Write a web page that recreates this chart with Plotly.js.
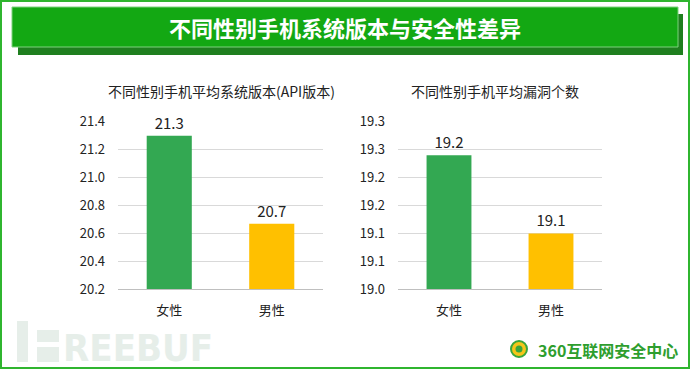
<!DOCTYPE html>
<html>
<head>
<meta charset="utf-8">
<script src="https://cdn.plot.ly/plotly-3.0.1.min.js"></script>
<style>
html,body{margin:0;padding:0;background:#fff;}
#chart{width:690px;height:370px;}
</style>
</head>
<body>
<div id="chart"></div>
<script>
// ---- data ----
const mainTitle = "不同性别手机系统版本与安全性差异";
const categories = ["女性", "男性"];
const apiTitle = "不同性别手机平均系统版本(API版本)";
const apiValues = [21.30, 20.67];
const apiLabels = ["21.3", "20.7"];
const vulnTitle = "不同性别手机平均漏洞个数";
const vulnValues = [19.24, 19.10];
const vulnLabels = ["19.2", "19.1"];
const vulnTickVals = [19.0, 19.05, 19.1, 19.15, 19.2, 19.25, 19.3];
const vulnTickText = ["19.0", "19.1", "19.1", "19.2", "19.2", "19.3", "19.3"];
const barColors = ["#33a852", "#ffc000"];
const watermark = "REEBUF";
const logoText = "360互联网安全中心";

const W = 690, H = 370;
const px = x => x / W;
const py = y => 1 - y / H;
const FONT = "'Microsoft YaHei','Noto Sans CJK SC',sans-serif";

const traces = [
  {type: "bar", x: categories, y: apiValues, text: apiLabels, textposition: "outside",
   texttemplate: "%{text}", cliponaxis: false,
   marker: {color: barColors}, xaxis: "x", yaxis: "y",
   textfont: {size: 15, color: "#222", family: FONT}, hoverinfo: "none"},
  {type: "bar", x: categories, y: vulnValues, text: vulnLabels, textposition: "outside",
   texttemplate: "%{text}", cliponaxis: false,
   marker: {color: barColors}, xaxis: "x2", yaxis: "y2",
   textfont: {size: 15, color: "#222", family: FONT}, hoverinfo: "none"}
];

const axisCommon = {
  showline: true, linecolor: "#bfbfbf", linewidth: 1,
  ticks: "", tickfont: {size: 13, color: "#222", family: FONT},
  ticklabelstandoff: 9, fixedrange: true
};
const yCommon = {
  showgrid: true, gridcolor: "#d9d9d9", gridwidth: 1, zeroline: false,
  showline: false, ticks: "", tickfont: {size: 13, color: "#222", family: FONT},
  ticklabelstandoff: 12, fixedrange: true
};

const layout = {
  width: W, height: H,
  margin: {l: 0, r: 0, t: 0, b: 0},
  paper_bgcolor: "#ffffff", plot_bgcolor: "#ffffff",
  showlegend: false,
  bargap: 0.56,
  font: {family: FONT},
  xaxis: Object.assign({}, axisCommon, {domain: [px(118), px(323)], anchor: "y"}),
  yaxis: Object.assign({}, yCommon, {domain: [py(289.3), py(121.7)], range: [20.2, 21.4],
        dtick: 0.2, tick0: 20.2, tickformat: ".1f", anchor: "x"}),
  xaxis2: Object.assign({}, axisCommon, {domain: [px(398), px(602)], anchor: "y2"}),
  yaxis2: Object.assign({}, yCommon, {domain: [py(289.3), py(121.7)], range: [19.0, 19.3],
        tickmode: "array", tickvals: vulnTickVals, ticktext: vulnTickText, anchor: "x2"}),
  shapes: [
    // outer border
    {type: "rect", xref: "paper", yref: "paper", x0: px(1), x1: px(689), y0: py(1), y1: py(368),
     line: {color: "#2fb52f", width: 2}, fillcolor: "rgba(0,0,0,0)", layer: "above"},
    // banner shadow
    {type: "rect", xref: "paper", yref: "paper", x0: px(18), x1: px(683), y0: py(55), y1: py(14),
     line: {width: 0}, fillcolor: "#1f7f1f", layer: "below"},
    // banner
    {type: "rect", xref: "paper", yref: "paper", x0: px(12), x1: px(678), y0: py(47), y1: py(7),
     line: {color: "#7fd27f", width: 1}, fillcolor: "#13a813", layer: "below"},
    // FREEBUF F-bars watermark
    {type: "rect", xref: "paper", yref: "paper", x0: px(17), x1: px(28), y0: py(362), y1: py(321),
     line: {width: 0}, fillcolor: "#e6eee9", layer: "below"},
    {type: "rect", xref: "paper", yref: "paper", x0: px(37), x1: px(59), y0: py(342), y1: py(330),
     line: {width: 0}, fillcolor: "#e6eee9", layer: "below"},
    {type: "rect", xref: "paper", yref: "paper", x0: px(37), x1: px(59), y0: py(362), y1: py(347),
     line: {width: 0}, fillcolor: "#e6eee9", layer: "below"},
    // logo icon
    {type: "circle", xref: "paper", yref: "paper", x0: px(511), x1: px(527), y0: py(357), y1: py(341),
     line: {color: "#3aa63a", width: 2}, fillcolor: "#f5c518", layer: "above"},
    {type: "circle", xref: "paper", yref: "paper", x0: px(515.5), x1: px(522.5), y0: py(352.5), y1: py(345.5),
     line: {width: 0}, fillcolor: "#3aa63a", layer: "above"}
  ],
  annotations: [
    {text: "<b>" + mainTitle + "</b>", xref: "paper", yref: "paper", x: px(345), y: py(27),
     showarrow: false, xanchor: "center", yanchor: "middle",
     font: {size: 22, color: "#ffffff", family: FONT}},
    {text: apiTitle, xref: "paper", yref: "paper", x: px(222), y: py(91),
     showarrow: false, xanchor: "center", yanchor: "middle",
     font: {size: 14, color: "#222", family: FONT}},
    {text: vulnTitle, xref: "paper", yref: "paper", x: px(495), y: py(91),
     showarrow: false, xanchor: "center", yanchor: "middle",
     font: {size: 14, color: "#222", family: FONT}},
    {text: "<b>" + watermark + "</b>", xref: "paper", yref: "paper", x: px(61), y: py(348),
     showarrow: false, xanchor: "left", yanchor: "middle",
     font: {size: 38, color: "#e6eee9", family: "'Liberation Sans Narrow','DejaVu Sans Condensed',sans-serif"}},
    {text: "<b>" + logoText + "</b>", xref: "paper", yref: "paper", x: px(536), y: py(350),
     showarrow: false, xanchor: "left", yanchor: "middle",
     font: {size: 16, color: "#2e9e2e", family: FONT}}
  ]
};

Plotly.newPlot("chart", traces, layout, {displayModeBar: false, staticPlot: true});
</script>
</body>
</html>
